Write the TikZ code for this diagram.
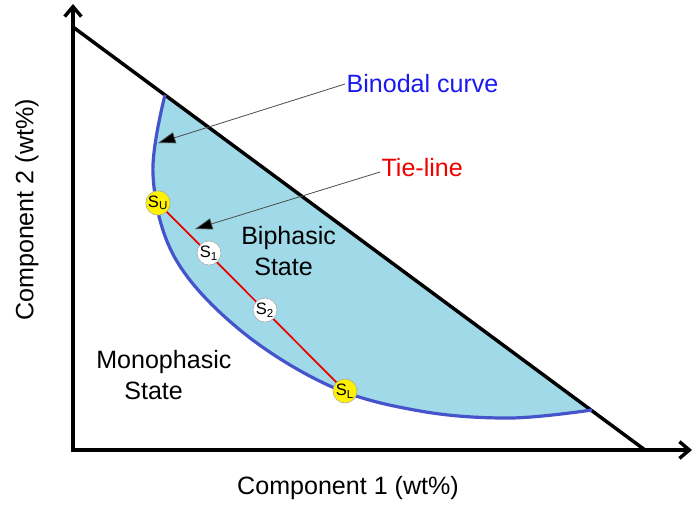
\documentclass[tikz,border=0pt]{standalone}
\usepackage{fontspec}
\setmainfont{Liberation Sans}
\usetikzlibrary{arrows.meta,positioning}
\definecolor{binodalblue}{RGB}{70,84,204}
\definecolor{phasefill}{RGB}{160,218,233}
\definecolor{labelblue}{RGB}{25,25,240}
\definecolor{tiered}{RGB}{238,0,0}
\definecolor{pointyellow}{RGB}{255,242,0}

\begin{document}
\begin{tikzpicture}[x=0.75pt,y=-0.75pt,font=\fontsize{18.8}{23}\selectfont,
  axis/.style={line width=2.6pt,line cap=butt,{Straight Barb[length=2.6mm,width=4.4mm]}-{Straight Barb[length=2.6mm,width=4.4mm]}},
  pointer/.style={draw=black!70,line width=0.6pt,-{Triangle[length=4.6mm,width=3mm,fill=black]}},
  sample/.style={circle,draw=black!35,line width=0.4pt,inner sep=0pt,minimum size=18pt,font=\fontsize{12.4}{14}\selectfont},
  phase/.style={align=left,inner sep=0pt}]
  \useasboundingbox (0,0) rectangle (693,504);
  % axes and mass-balance line
  \coordinate (O) at (73,450);
  \coordinate (yend) at (73,4);
  \coordinate (xend) at (692,450);
  \coordinate (ytop) at (73,27);
  \coordinate (xfar) at (645,450);
  % two-phase region
  \fill[phasefill] plot[smooth,tension=0.6] coordinates {(165,95) (153,175) (175,258) (240,330) (330,386) (420,411) (510,418) (592,410)} -- cycle;
  \draw[axis] (yend) -- (O) -- (xend);
  \draw[line width=2.6pt] (ytop) -- (xfar);
  \draw[binodalblue,line width=2.4pt] plot[smooth,tension=0.6] coordinates {(165,95) (153,175) (175,258) (240,330) (330,386) (420,411) (510,418) (592,410)};
  % tie-line and samples
  \node[sample,fill=pointyellow] (SU) at (158,203) {S\textsubscript{U}};
  \node[sample,fill=pointyellow] (SL) at (345,391) {S\textsubscript{L}};
  \draw[tiered,line width=1.3pt] (SU) -- (SL);
  \node[sample,fill=white] (S1) at (209,253) {S\textsubscript{1}};
  \node[sample,fill=white] (S2) at (265,310) {S\textsubscript{2}};
  % labels
  \node[labelblue,anchor=west,inner sep=1pt] (binodal) at (345,84) {Binodal curve};
  \node[tiered,anchor=west,inner sep=1pt] (tie) at (380,168) {Tie-line};
  \coordinate (bintip) at (158,143);
  \coordinate (tietip) at (195,229);
  \draw[pointer] (binodal.west) -- (bintip);
  \draw[pointer] ([yshift=-3pt]tie.west) -- (tietip);
  \node[phase,anchor=north west] (bi) at (241,226) {Biphasic\\\hspace*{0.52em}State};
  \node[phase,anchor=north west] (mono) at (96,350) {Monophasic\\\hspace*{1.12em}State};
  \node (xlabel) at (348,488) {Component 1 (wt\%)};
  \node[rotate=90] (ylabel) at (27,210) {Component 2 (wt\%)};
\end{tikzpicture}
\end{document}
